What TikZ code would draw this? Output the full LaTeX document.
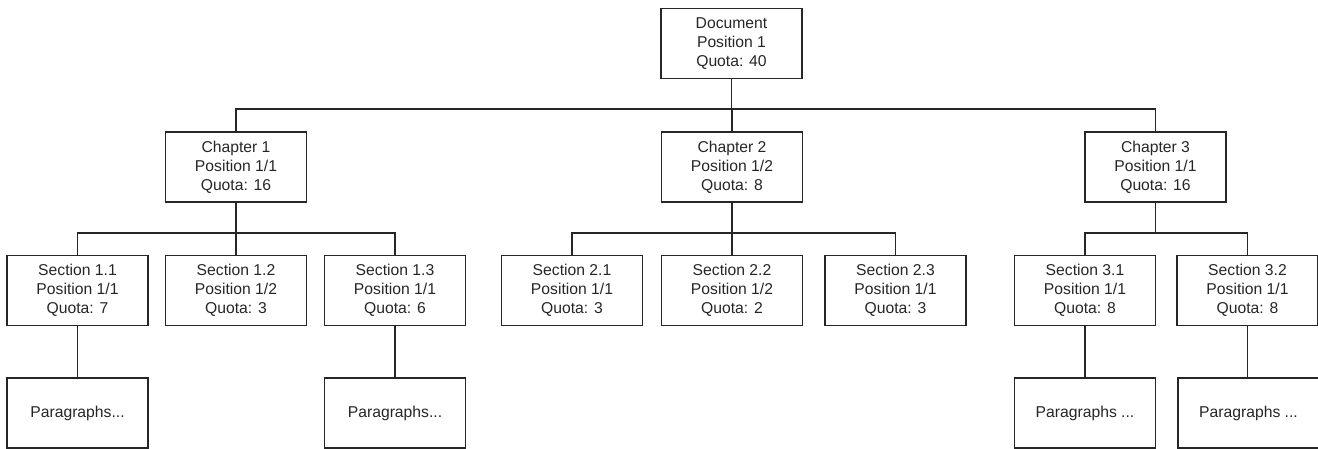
\documentclass[tikz,border=0pt]{standalone}
\usepackage{fontspec}
\setmainfont{Liberation Sans}
\definecolor{ink}{HTML}{262626}
\begin{document}
\begin{tikzpicture}[x=1pt,y=-1pt,
  box/.style={draw=ink,line width=1.1pt,rectangle,minimum width=141pt,
    minimum height=70pt,inner sep=0pt,align=center,text=ink,
    font=\fontsize{15.7pt}{19pt}\selectfont},
  wire/.style={draw=ink,line width=1.1pt}]
\useasboundingbox (0,0) rectangle (1318,449);

% root
\node[box] (doc) at (731.5,43.5) {Document\\Position 1\\Quota: 40};

% chapters
\node[box] (ch1) at (236,167) {Chapter 1\\Position 1/1\\Quota: 16};
\node[box] (ch2) at (732,167) {Chapter 2\\Position 1/2\\Quota: 8};
\node[box] (ch3) at (1155.5,167) {Chapter 3\\Position 1/1\\Quota: 16};

% sections
\node[box] (s11) at (77.5,290.5) {Section 1.1\\Position 1/1\\Quota: 7};
\node[box] (s12) at (236,290.5) {Section 1.2\\Position 1/2\\Quota: 3};
\node[box] (s13) at (395,290.5) {Section 1.3\\Position 1/1\\Quota: 6};
\node[box] (s21) at (572,290.5) {Section 2.1\\Position 1/1\\Quota: 3};
\node[box] (s22) at (732,290.5) {Section 2.2\\Position 1/2\\Quota: 2};
\node[box] (s23) at (895.5,290.5) {Section 2.3\\Position 1/1\\Quota: 3};
\node[box] (s31) at (1085,290.5) {Section 3.1\\Position 1/1\\Quota: 8};
\node[box] (s32) at (1247.5,290.5) {Section 3.2\\Position 1/1\\Quota: 8};

% paragraphs
\node[box] (p11) at (77.5,413) {Paragraphs...};
\node[box] (p13) at (395,413) {Paragraphs...};
\node[box] (p31) at (1085,413) {Paragraphs ...};
\node[box] (p32) at (1248.5,413) {Paragraphs ...};

% bus rows
\coordinate (b0) at (731.5,109);
\coordinate (b1) at (236,233);
\coordinate (b2) at (732,233);
\coordinate (b3) at (1085,233);

% root to chapters
\draw[wire] (doc.south) -- (b0);
\draw[wire] (ch1.north) |- (b0) -| (ch3.north);
\draw[wire] (ch2.north) -- (ch2.north |- b0);

% chapter 1 to sections
\draw[wire] (ch1.south) -- (b1);
\draw[wire] (s11.north) |- (b1) -| (s13.north);
\draw[wire] (s12.north) -- (b1);

% chapter 2 to sections
\draw[wire] (ch2.south) -- (b2);
\draw[wire] (s21.north) |- (b2) -| (s23.north);
\draw[wire] (s22.north) -- (b2);

% chapter 3 to sections
\draw[wire] (ch3.south) -- (ch3.south |- b3);
\draw[wire] (s31.north) |- (b3) -| (s32.north);

% sections to paragraphs
\draw[wire] (s11.south) -- (p11.north);
\draw[wire] (s13.south) -- (p13.north);
\draw[wire] (s31.south) -- (p31.north);
\draw[wire] (s32.south) -- (s32.south |- p32.north);
\end{tikzpicture}
\end{document}
